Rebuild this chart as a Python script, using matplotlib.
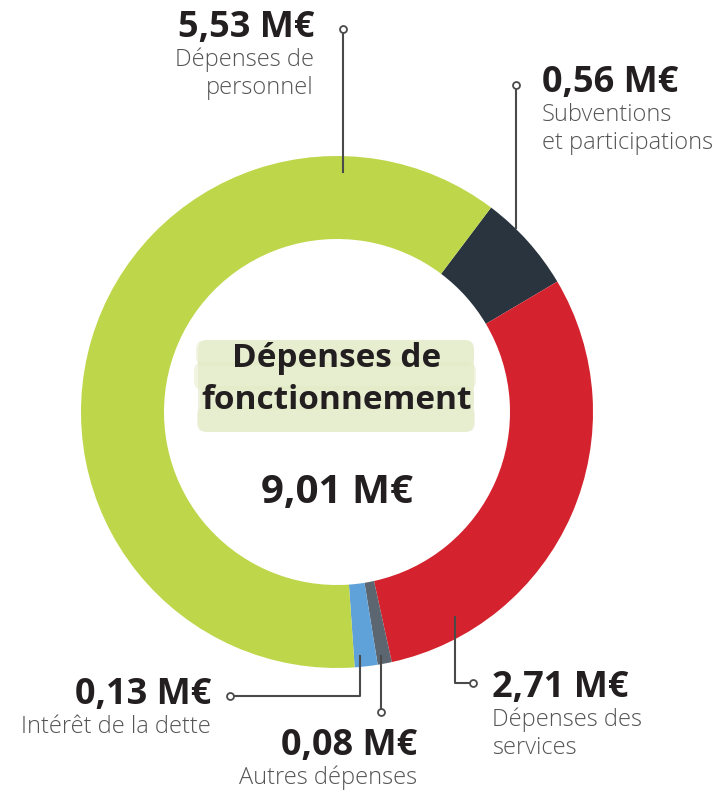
import matplotlib.pyplot as plt
from matplotlib.patches import FancyBboxPatch

plt.rcParams['font.family'] = ['Open Sans', 'DejaVu Sans']

# données (M€)
categories = ['Subventions\net participations', 'Dépenses des\nservices',
              'Autres dépenses', 'Intérêt de la dette', 'Dépenses de\npersonnel']
values = [0.56, 2.71, 0.08, 0.13, 5.53]
value_labels = ['0,56 M€', '2,71 M€', '0,08 M€', '0,13 M€', '5,53 M€']
colors = ['#29343e', '#d4232e', '#5b6670', '#5fa2d9', '#bed64a']
total_label = '9,01 M€'

W, H = 719, 794
fig = plt.figure(figsize=(W / 100, H / 100), dpi=100)
ax = fig.add_axes([0, 0, 1, 1])


def Y(y):
    # coordonnées "image" (y vers le bas) -> axes
    return H - y


cx, cy, R = 337, Y(412), 256
ax.pie(values, colors=colors, startangle=53, counterclock=False,
       center=(cx, cy), radius=R, frame=True,
       wedgeprops=dict(width=R - 173, linewidth=0))
ax.set_xlim(0, W)
ax.set_ylim(0, H)
ax.axis('off')

# fond "coup de pinceau" derrière le titre
ax.add_patch(FancyBboxPatch((198, Y(432)), 276, 92,
                            boxstyle='round,pad=0,rounding_size=10',
                            fc='#edf2dc', ec='none', zorder=2))
strokes = [(196, 340, 278, 26), (194, 362, 282, 28), (200, 386, 274, 24),
           (197, 406, 278, 26)]
for (x0, y0, w, h) in strokes:
    ax.add_patch(FancyBboxPatch((x0, Y(y0 + h)), w, h,
                                boxstyle='round,pad=0,rounding_size=9',
                                fc='#e2eac4', ec='none', alpha=0.5, zorder=2))

dark = '#231f20'
grey = '#555555'
ax.text(cx, Y(367), 'Dépenses de', ha='center', va='baseline',
        fontsize=24, fontweight='bold', color=dark, zorder=3)
ax.text(cx, Y(409), 'fonctionnement', ha='center', va='baseline',
        fontsize=24, fontweight='bold', color=dark, zorder=3)
ax.text(cx, Y(503), total_label, ha='center', va='baseline',
        fontsize=29, fontweight='bold', color=dark, zorder=3)

# lignes de rappel (coordonnées image)
leaders = [
    [(516, 228), (516, 85)],
    [(455, 617), (455, 683), (473, 683)],
    [(381, 656), (381, 712)],
    [(360, 656), (360, 696), (230, 696)],
    [(343, 172), (343, 29)],
]
# positions des étiquettes : x, baseline valeur, alignement
label_pos = [
    (542, 92, 'left'),
    (492, 697, 'left'),
    (417, 755, 'right'),
    (211, 704, 'right'),
    (314, 37, 'right'),
]

for pts, (lx, ly, ha), val, cat in zip(leaders, label_pos, value_labels, categories):
    xs = [p[0] for p in pts]
    ys = [Y(p[1]) for p in pts]
    ax.plot(xs, ys, color='#4a4a4a', lw=1.5, zorder=4)
    ax.plot(xs[-1], ys[-1], 'o', ms=5, mfc='white', mec='#4a4a4a', mew=1.3, zorder=5)
    ax.text(lx, Y(ly), val, ha=ha, va='baseline', fontsize=26,
            fontweight='bold', color=dark)
    for i, line in enumerate(cat.split('\n')):
        ax.text(lx, Y(ly + 29 + 28 * i), line, ha=ha, va='baseline',
                fontsize=17, fontweight='light', color=grey)

fig.savefig('out.png', dpi=100)
